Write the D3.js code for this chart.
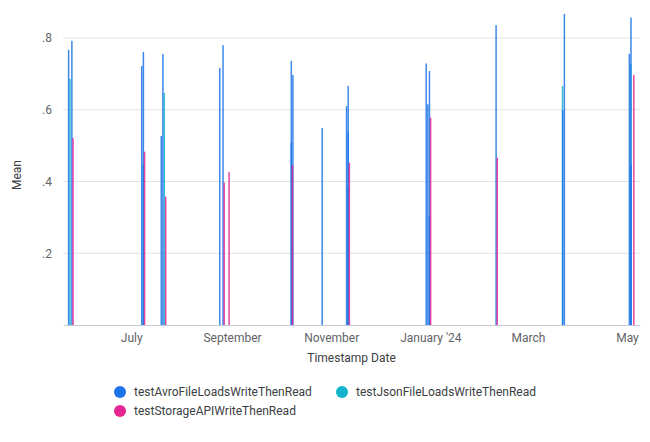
<!DOCTYPE html>
<head>
    <meta charset="UTF-8">
    <title>Mean by Timestamp Date</title>
</head>
<style>
    body {
        margin: 0;
        font: 12px Roboto, sans-serif;
    }

    .tick text {
        fill: #5f6368;
        font: 12px Roboto, sans-serif;
    }

    .axis-title {
        fill: #3c4043;
        font: 12px Roboto, sans-serif;
        text-anchor: middle;
    }

    .legend text {
        fill: #3c4043;
        font: 12px Roboto, sans-serif;
    }
</style>
<body>

    <script src="https://cdn.jsdelivr.net/npm/d3@7"></script>
    <script>
        // series names + colours (Looker default palette)
        var seriesNames = ["testAvroFileLoadsWriteThenRead", "testJsonFileLoadsWriteThenRead", "testStorageAPIWriteThenRead"];
        var seriesColors = ["#1a73e8", "#12b5cb", "#e52592"];

        // values
        var avroDates = ["2023-05-23", "2023-05-25", "2023-07-07", "2023-07-08", "2023-07-19", "2023-07-20",
            "2023-08-24", "2023-08-26", "2023-10-07", "2023-10-07", "2023-10-08", "2023-10-26",
            "2023-11-10", "2023-11-11", "2023-11-11", "2023-12-29", "2023-12-30", "2023-12-31", "2023-12-31",
            "2024-02-10", "2024-03-22", "2024-03-23", "2024-05-02", "2024-05-03", "2024-05-03"];
        var avroValues = [0.767, 0.792, 0.722, 0.761, 0.527, 0.755,
            0.716, 0.780, 0.736, 0.507, 0.697, 0.549,
            0.610, 0.666, 0.539, 0.729, 0.615, 0.708, 0.302,
            0.836, 0.599, 0.867, 0.756, 0.857, 0.446];

        var jsonDates = ["2023-05-23", "2023-07-07", "2023-07-20", "2023-11-10", "2024-03-21", "2024-05-02"];
        var jsonValues = [0.686, 0.446, 0.647, 0.382, 0.666, 0.728];

        var storageDates = ["2023-05-24", "2023-07-07", "2023-07-20", "2023-08-25", "2023-08-28",
            "2023-10-06", "2023-11-10", "2023-12-30", "2024-02-09", "2024-05-03"];
        var storageValues = [0.521, 0.483, 0.358, 0.397, 0.426,
            0.446, 0.452, 0.578, 0.466, 0.697];

        var xDomain = ["2023-05-20", "2024-05-09"];
        var tickDates = ["2023-07-01", "2023-09-01", "2023-11-01", "2024-01-01", "2024-03-01", "2024-05-01"];
        var yTicks = [0.2, 0.4, 0.6, 0.8];

        var parse = d3.timeParse("%Y-%m-%d");

        var width = 650, height = 442;
        var margin = {top: 10, right: 10, bottom: 117, left: 63};
        var barWidth = 1.5, barStep = 1.4;

        // json drawn first so avro sits on top where they overlap
        var drawOrder = [1, 0, 2];
        var allSeries = [[avroDates, avroValues], [jsonDates, jsonValues], [storageDates, storageValues]];
        var rows = [];
        drawOrder.forEach(function(si) {
            var s = allSeries[si];
            s[0].forEach(function(d, i) {
                rows.push({series: si, date: parse(d), value: s[1][i]});
            });
        });

        var svg = d3.select("body").append("svg")
            .attr("width", width)
            .attr("height", height);

        var x = d3.scaleTime()
            .domain(xDomain.map(parse))
            .range([margin.left, width - margin.right]);

        var y = d3.scaleLinear()
            .domain([0, 0.878])
            .range([height - margin.bottom, margin.top]);

        // gridlines
        svg.append("g")
            .selectAll("line")
            .data(yTicks)
            .enter().append("line")
            .attr("x1", margin.left)
            .attr("x2", width - margin.right)
            .attr("y1", function(d) { return y(d); })
            .attr("y2", function(d) { return y(d); })
            .attr("stroke", "#e3e3e3");

        // y labels like ".8"
        var yAxis = svg.append("g")
            .attr("transform", "translate(" + margin.left + ",0)")
            .call(d3.axisLeft(y).tickValues(yTicks).tickSize(0).tickPadding(11)
                .tickFormat(function(d) { return d3.format(".1f")(d).replace(/^0/, ""); }));
        yAxis.select(".domain").remove();

        // bars
        svg.append("g")
            .selectAll("rect")
            .data(rows)
            .enter().append("rect")
            .attr("x", function(d) { return x(d.date) + d.series * barStep; })
            .attr("y", function(d) { return y(d.value); })
            .attr("width", barWidth)
            .attr("height", function(d) { return y(0) - y(d.value); })
            .attr("fill", function(d) { return seriesColors[d.series]; })
            .attr("fill-opacity", 0.85);

        // x axis
        var fmtMonth = function(d) {
            return d.getMonth() === 0 ? d3.timeFormat("%B '%y")(d) : d3.timeFormat("%B")(d);
        };
        var xAxis = svg.append("g")
            .attr("transform", "translate(0," + y(0) + ")")
            .call(d3.axisBottom(x).tickValues(tickDates.map(parse)).tickSize(0).tickPadding(8).tickFormat(fmtMonth));
        xAxis.select(".domain").attr("stroke", "#c4c9d4");

        svg.append("text")
            .attr("class", "axis-title")
            .attr("x", (margin.left + width - margin.right) / 2)
            .attr("y", 362)
            .text("Timestamp Date");

        svg.append("text")
            .attr("class", "axis-title")
            .attr("transform", "translate(21,175) rotate(-90)")
            .text("Mean");

        // legend
        var legendPos = [[120, 392], [342, 392], [120, 411]];
        var legend = svg.append("g")
            .attr("class", "legend")
            .selectAll("g")
            .data(seriesNames)
            .enter().append("g")
            .attr("transform", function(d, i) { return "translate(" + legendPos[i][0] + "," + legendPos[i][1] + ")"; });

        legend.append("circle")
            .attr("r", 6)
            .attr("fill", function(d, i) { return seriesColors[i]; });

        legend.append("text")
            .attr("x", 14)
            .attr("dy", "0.35em")
            .text(function(d) { return d; });
    </script>
</body>
</html>
